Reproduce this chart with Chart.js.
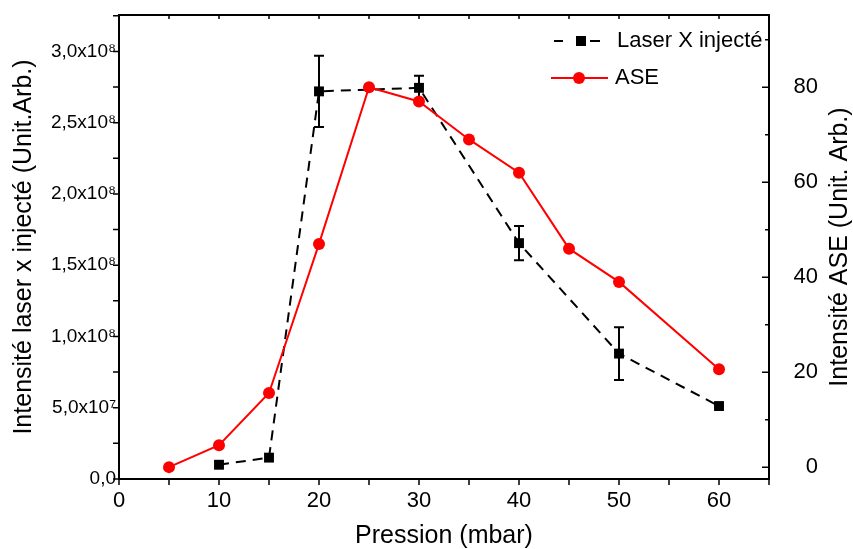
<!DOCTYPE html>
<html>
<head>
<meta charset="utf-8">
<title>Laser X injecté / ASE</title>
<script src="https://cdn.jsdelivr.net/npm/chart.js@4.4.0/dist/chart.umd.min.js"></script>
<style>
    html, body { margin: 0; padding: 0; background: #fff; }
    #chart { display: block; }
</style>
</head>
<body>
<canvas id="chart" width="853" height="549"></canvas>
<script>
// Laser X injecté (left axis)
var laserPressure = [10, 15, 20, 30, 40, 50, 60];
var laserValues = [1.0e7, 1.5e7, 2.72e8, 2.745e8, 1.655e8, 0.88e8, 0.512e8];
var laserErrors = [0, 0, 2.5e7, 0.85e7, 1.2e7, 1.85e7, 0.1e7];

// ASE (right axis)
var asePressure = [5, 10, 15, 20, 25, 30, 35, 40, 45, 50, 60];
var aseValues = [0, 4.6, 15.6, 47, 80, 77, 69, 62, 46, 39, 20.6];

// Tick labels
var xTicks = [0, 10, 20, 30, 40, 50, 60];
var leftTicks = [0, 5e7, 1e8, 1.5e8, 2e8, 2.5e8, 3e8];
var rightTicks = [0, 20, 40, 60, 80];

var labels = {
    x: 'Pression (mbar)',
    left: 'Intensité laser x injecté (Unit.Arb.)',
    right: 'Intensité ASE (Unit. Arb.)',
    laser: 'Laser X injecté',
    ase: 'ASE'
};

(function() {
    'use strict';

    var FONT = "'Liberation Sans', Arial, sans-serif";
    var SUP = { 7: '\u2077', 8: '\u2078' };

    /**
     * Format left axis values like 2,5x10^8
     */
    function sciLabel(value) {
        if (value === 0) {
            return '0,0';
        }
        var exp = Math.floor(Math.log10(value) + 1e-9);
        var mant = value / Math.pow(10, exp);
        return mant.toFixed(1).replace('.', ',') + 'x10' + SUP[exp];
    }

    function toPoints(xs, ys) {
        return xs.map(function(x, i) {
            return { x: x, y: ys[i] };
        });
    }

    function fixedTicks(list) {
        return function(scale) {
            scale.ticks = list.map(function(v) { return { value: v }; });
        };
    }

    /**
     * Error bars for the laser series
     */
    var errorBars = {
        id: 'errorBars',
        beforeDatasetsDraw: function(chart) {
            var ctx = chart.ctx;
            var xs = chart.scales.x;
            var ys = chart.scales.y;
            ctx.save();
            ctx.strokeStyle = '#000';
            ctx.lineWidth = 2;
            laserPressure.forEach(function(p, i) {
                var err = laserErrors[i];
                if (!err) {
                    return;
                }
                var px = xs.getPixelForValue(p);
                var top = ys.getPixelForValue(laserValues[i] + err);
                var bottom = ys.getPixelForValue(laserValues[i] - err);
                ctx.beginPath();
                ctx.moveTo(px, top);
                ctx.lineTo(px, bottom);
                ctx.moveTo(px - 5, top);
                ctx.lineTo(px + 5, top);
                ctx.moveTo(px - 5, bottom);
                ctx.lineTo(px + 5, bottom);
                ctx.stroke();
            });
            ctx.restore();
        }
    };

    /**
     * Frame, tick marks, right title and legend
     */
    var decorations = {
        id: 'decorations',
        afterDraw: function(chart) {
            var ctx = chart.ctx;
            var area = chart.chartArea;
            var xs = chart.scales.x;
            var ys = chart.scales.y;
            var y2 = chart.scales.y2;
            var v, p;

            ctx.save();
            ctx.strokeStyle = '#000';
            ctx.lineWidth = 2;

            // top frame line
            ctx.beginPath();
            ctx.moveTo(area.left - 1, area.top);
            ctx.lineTo(area.right + 1, area.top);
            ctx.stroke();

            ctx.lineWidth = 1.5;
            ctx.beginPath();
            // x ticks: outward at bottom, inward at top
            for (v = 0; v <= xs.max + 1e-9; v += 5) {
                p = xs.getPixelForValue(v);
                ctx.moveTo(p, area.bottom);
                ctx.lineTo(p, area.bottom + 6);
                ctx.moveTo(p, area.top);
                ctx.lineTo(p, area.top + 4);
            }
            // left ticks outward
            for (v = 0; v <= ys.max; v += 2.5e7) {
                p = ys.getPixelForValue(v);
                ctx.moveTo(area.left, p);
                ctx.lineTo(area.left - 6, p);
            }
            // right ticks inward
            for (v = 0; v <= y2.max; v += 10) {
                p = y2.getPixelForValue(v);
                ctx.moveTo(area.right, p);
                ctx.lineTo(area.right - (v % 20 === 0 ? 7 : 4), p);
            }
            ctx.stroke();

            // right axis title, reading bottom to top
            ctx.fillStyle = '#000';
            ctx.font = '25px ' + FONT;
            ctx.textAlign = 'center';
            ctx.textBaseline = 'middle';
            ctx.translate(840, 247);
            ctx.rotate(-Math.PI / 2);
            ctx.fillText(labels.right, 0, 0);
            ctx.setTransform(1, 0, 0, 1, 0, 0);

            // legend
            ctx.lineWidth = 2;
            ctx.beginPath();
            ctx.moveTo(554, 41);
            ctx.lineTo(563, 41);
            ctx.moveTo(590, 41);
            ctx.lineTo(600, 41);
            ctx.stroke();
            ctx.fillRect(576, 36, 10, 10);

            ctx.strokeStyle = '#ff0000';
            ctx.fillStyle = '#ff0000';
            ctx.beginPath();
            ctx.moveTo(551, 78);
            ctx.lineTo(608, 78);
            ctx.stroke();
            ctx.beginPath();
            ctx.arc(579, 78, 6, 0, Math.PI * 2);
            ctx.fill();

            ctx.fillStyle = '#000';
            ctx.font = '22px ' + FONT;
            ctx.textAlign = 'left';
            ctx.fillText(labels.laser, 617, 41);
            ctx.fillText(labels.ase, 615, 78);
            ctx.restore();
        }
    };

    var tickFont = function(size) {
        return { family: FONT, size: size };
    };

    new Chart(document.getElementById('chart'), {
        type: 'line',
        data: {
            datasets: [{
                label: labels.laser,
                data: toPoints(laserPressure, laserValues),
                yAxisID: 'y',
                order: 1,
                borderColor: '#000',
                backgroundColor: '#000',
                borderWidth: 2,
                borderDash: [10, 7],
                pointStyle: 'rect',
                pointRadius: 7,
                pointBorderWidth: 0,
                tension: 0
            }, {
                label: labels.ase,
                data: toPoints(asePressure, aseValues),
                yAxisID: 'y2',
                order: 0,
                borderColor: '#ff0000',
                backgroundColor: '#ff0000',
                borderWidth: 2,
                pointStyle: 'circle',
                pointRadius: 6,
                pointBorderWidth: 0,
                tension: 0
            }]
        },
        options: {
            responsive: false,
            animation: false,
            devicePixelRatio: 1,
            // right padding leaves room for the hand drawn right title
            layout: { padding: { top: 15, left: 0, right: 35, bottom: 0 } },
            plugins: {
                legend: { display: false },
                tooltip: { enabled: false }
            },
            scales: {
                x: {
                    type: 'linear',
                    min: 0,
                    max: 65,
                    afterBuildTicks: fixedTicks(xTicks),
                    afterFit: function(scale) { scale.height = 70; },
                    grid: { display: false, drawTicks: false },
                    border: { display: true, color: '#000', width: 2 },
                    ticks: { color: '#000', font: tickFont(22), padding: 9, autoSkip: false, maxRotation: 0 },
                    title: {
                        display: true,
                        text: labels.x,
                        color: '#000',
                        font: { family: FONT, size: 25, lineHeight: 1 },
                        padding: { top: 0, bottom: 0 }
                    }
                },
                y: {
                    type: 'linear',
                    position: 'left',
                    min: 0,
                    max: 3.256e8,
                    afterBuildTicks: fixedTicks(leftTicks),
                    afterFit: function(scale) { scale.width = 119; },
                    grid: { display: false, drawTicks: false },
                    border: { display: true, color: '#000', width: 2 },
                    ticks: { color: '#000', font: tickFont(19), padding: 3, autoSkip: false, callback: sciLabel },
                    title: {
                        display: true,
                        text: labels.left,
                        color: '#000',
                        font: { family: FONT, size: 25, lineHeight: 1 },
                        padding: { top: 12, bottom: 0 }
                    }
                },
                y2: {
                    type: 'linear',
                    position: 'right',
                    min: -2.5,
                    max: 95.2,
                    afterBuildTicks: fixedTicks(rightTicks),
                    afterFit: function(scale) { scale.width = 49; },
                    grid: { display: false, drawTicks: false },
                    border: { display: true, color: '#000', width: 2 },
                    ticks: { color: '#000', font: tickFont(22), padding: 0, crossAlign: 'far', autoSkip: false }
                }
            }
        },
        plugins: [errorBars, decorations]
    });
})();
</script>
</body>
</html>
